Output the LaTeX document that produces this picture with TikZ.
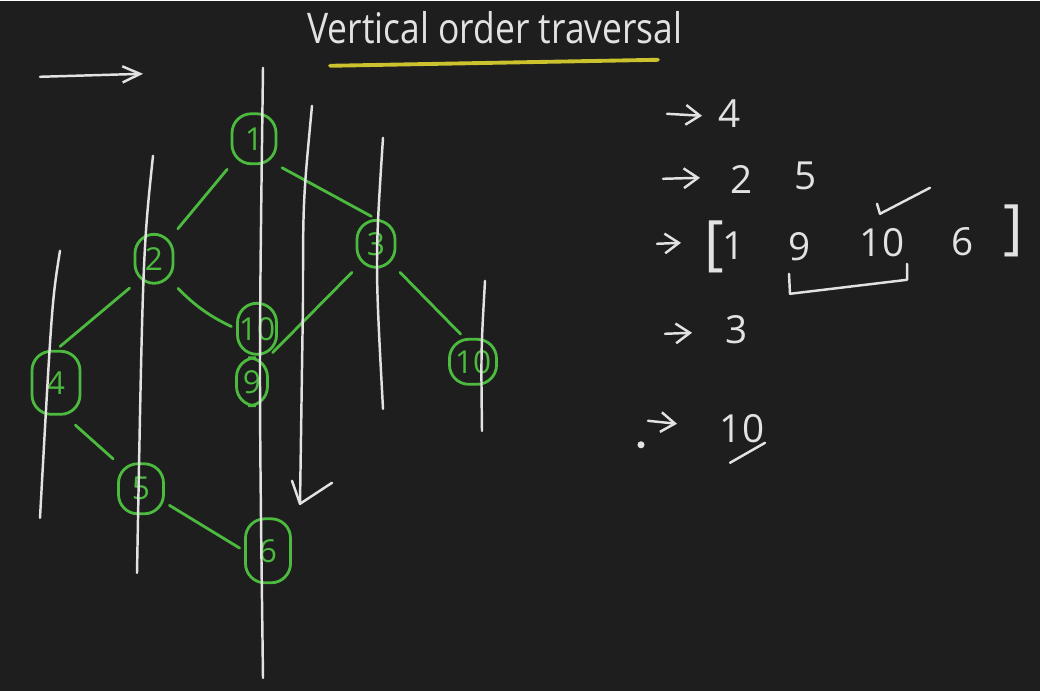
\documentclass[tikz,border=0pt]{standalone}
\usepackage{fontspec}
\setmainfont{Open Sans}
\usetikzlibrary{arrows.meta}
\definecolor{board}{RGB}{30,30,30}
\definecolor{chalk}{RGB}{226,226,226}
\definecolor{leaf}{RGB}{76,186,62}
\definecolor{marker}{RGB}{204,194,46}
\tikzset{
  chalkline/.style={draw=chalk, line width=0.7pt, line cap=round, line join=round},
  treenode/.style={draw=leaf, line width=0.8pt, rounded corners=5.5pt, text=leaf, inner sep=0pt, font=\fontsize{9}{10}\selectfont},
  treeedge/.style={draw=leaf, line width=0.8pt, line cap=round, shorten <=1.5pt, shorten >=1.5pt},
  listtext/.style={text=chalk, inner sep=0pt, font=\fontsize{11}{12}\selectfont},
  barb/.style={-{Straight Barb[length=4pt,width=5.6pt]}},
  bigbarb/.style={-{Straight Barb[length=5pt,width=4.6pt]}}
}

\begin{document}
\begin{tikzpicture}[x=0.01cm, y=-0.01cm]
  \fill[board] (0,0) rectangle (1040,690);

  \node[text=chalk, anchor=base, xscale=0.84, font=\fontsize{12}{14}\selectfont] (title) at (495,43) {Vertical order traversal};
  \coordinate (UL) at (330,65);
  \coordinate (UR) at (658,59);
  \draw[draw=marker, line width=1.1pt, line cap=round] (UL) -- (UR);

  \coordinate (TLa) at (40,76);
  \coordinate (TLb) at (143,73);
  \draw[chalkline,bigbarb] (TLa) -- (TLb);

  % tree
  \node[treenode, minimum width=0.44cm, minimum height=0.50cm] (n1) at (254,138) {1};
  \node[treenode, minimum width=0.38cm, minimum height=0.49cm] (n2) at (154,258) {2};
  \node[treenode, minimum width=0.38cm, minimum height=0.47cm] (n3) at (376,243) {3};
  \node[treenode, minimum width=0.39cm, minimum height=0.51cm] (n10a) at (257,328) {10};
  \node[treenode, minimum width=0.31cm, minimum height=0.48cm] (n9) at (252,381) {9};
  \node[treenode, minimum width=0.48cm, minimum height=0.63cm] (n4) at (56,382) {4};
  \node[treenode, minimum width=0.47cm, minimum height=0.45cm] (n10b) at (473,361) {10};
  \node[treenode, minimum width=0.45cm, minimum height=0.50cm] (n5) at (141,488) {5};
  \node[treenode, minimum width=0.45cm, minimum height=0.64cm] (n6) at (268,550) {6};

  \draw[treeedge] (n1.south west) -- (n2.north east);
  \draw[treeedge] (n1.south east) -- (n3.north);
  \draw[treeedge] (n2.south west) -- (n4.north);
  \draw[treeedge] (n2.south east) to[bend right=10] (n10a.west);
  \draw[treeedge] (n3.south west) -- (n9.north east);
  \draw[treeedge] (n3.south east) -- (n10b.110);
  \draw[treeedge, shorten <=4pt] (n4.-75) -- (n5.north west);
  \draw[treeedge] (n5.-30) -- (n6.west);

  % vertical lines
  \coordinate (VAt) at (60,250);
  \coordinate (VAb) at (40,517);
  \coordinate (VBt) at (153,155);
  \coordinate (VBb) at (137,572);
  \coordinate (VCt) at (263,67);
  \coordinate (VCb) at (263,677);
  \coordinate (VDt) at (312,105);
  \coordinate (VDm) at (303,300);
  \coordinate (VDb) at (300,503);
  \coordinate (VDl) at (292,480);
  \coordinate (VDr) at (332,482);
  \coordinate (VEt) at (383,137);
  \coordinate (VEm) at (378,250);
  \coordinate (VEb) at (383,408);
  \coordinate (VFt) at (485,280);
  \coordinate (VFb) at (482,430);

  \draw[chalkline] (VAt) .. controls (52,300) .. (VAb);
  \draw[chalkline] (VBt) .. controls (143,250) .. (VBb);
  \draw[chalkline] (VCt) .. controls (259,370) .. (VCb);
  \draw[chalkline] (VDt) .. controls (303,200) .. (VDm) -- (VDb);
  \draw[chalkline] (VDl) -- (VDb) -- (VDr);
  \draw[chalkline] (VEt) .. controls (375,260) .. (VEb);
  \draw[chalkline] (VFt) .. controls (481,350) .. (VFb);

  % result list
  \coordinate (A1a) at (667,113);
  \coordinate (A1b) at (702,115);
  \coordinate (A2a) at (663,178);
  \coordinate (A2b) at (700,177);
  \coordinate (A3a) at (657,243);
  \coordinate (A3b) at (681,242);
  \coordinate (A4a) at (665,333);
  \coordinate (A4b) at (692,332);
  \coordinate (A5a) at (648,420);
  \coordinate (A5b) at (677,423);

  \draw[chalkline,barb] (A1a) -- (A1b);
  \draw[chalkline,barb] (A2a) -- (A2b);
  \draw[chalkline,barb] (A3a) -- (A3b);
  \draw[chalkline,barb] (A4a) -- (A4b);
  \draw[chalkline,barb] (A5a) -- (A5b);

  \node[listtext] (r4) at (730,113) {4};
  \node[listtext] (r2) at (742,179) {2};
  \node[listtext] (r5) at (806,175) {5};
  \node[listtext, font=\fontsize{17}{18}\selectfont] (lb) at (714,246) {[};
  \node[listtext] (r1) at (734,245) {1};
  \node[listtext] (r9) at (800,246) {9};
  \node[listtext] (r10) at (882,242) {10};
  \node[listtext] (r6) at (963,241) {6};
  \node[listtext, font=\fontsize{17}{18}\selectfont] (rb) at (1013,230) {]};
  \node[listtext] (r3) at (737,329) {3};
  \node[listtext] (r10b) at (742,428) {10};

  \coordinate (Ba) at (789,273);
  \coordinate (Bb) at (790,293);
  \coordinate (Bc) at (907,279);
  \coordinate (Bd) at (907,263);
  \draw[chalkline] (Ba) -- (Bb) -- (Bc) -- (Bd);

  \coordinate (Ka) at (877,203);
  \coordinate (Kb) at (880,213);
  \coordinate (Kc) at (930,187);
  \draw[chalkline] (Ka) -- (Kb) -- (Kc);

  \coordinate (La) at (730,462);
  \coordinate (Lb) at (765,442);
  \draw[chalkline] (La) -- (Lb);

  \coordinate (dot) at (641,444);
  \fill[chalk] (dot) circle (1pt);
\end{tikzpicture}
\end{document}
